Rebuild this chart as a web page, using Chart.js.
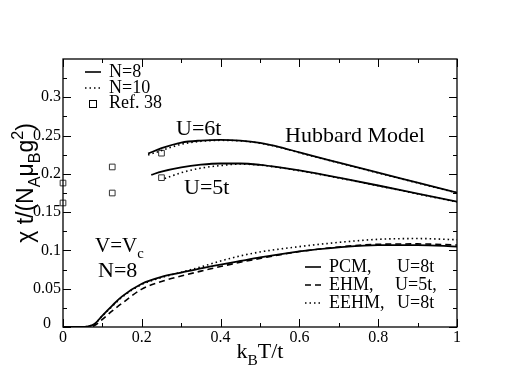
<!DOCTYPE html>
<html>
<head>
<meta charset="utf-8">
<script src="https://cdn.jsdelivr.net/npm/chart.js@4.4.1/dist/chart.umd.min.js"></script>
<style>
  html, body { margin: 0; padding: 0; background: #fff; }
  #wrap { width: 518px; height: 382px; }
</style>
</head>
<body>
<div id="wrap"><canvas id="chi" width="518" height="382"></canvas></div>
<script>
// Hubbard model, U=6t and U=5t
const xU6n8 = [0.216, 0.25, 0.3, 0.35, 0.4, 0.45, 0.5, 0.55, 0.6, 0.7, 0.8, 0.9, 1.0];
const yU6n8 = [0.2265, 0.2335, 0.2409, 0.2435, 0.2444, 0.2435, 0.2405, 0.235, 0.228, 0.2147, 0.2015, 0.1885, 0.1755];
const xU6n10 = [0.216, 0.25, 0.3, 0.35, 0.4, 0.45, 0.5, 0.55, 0.6, 0.7, 0.8, 0.9, 1.0];
const yU6n10 = [0.2247, 0.2304, 0.2387, 0.2425, 0.2438, 0.2431, 0.2401, 0.2346, 0.2276, 0.2143, 0.2011, 0.1881, 0.1751];
const xU5n8 = [0.224, 0.25, 0.3, 0.35, 0.4, 0.45, 0.5, 0.55, 0.6, 0.7, 0.8, 0.9, 1.0];
const yU5n8 = [0.1986, 0.203, 0.2086, 0.212, 0.2135, 0.2135, 0.2118, 0.2085, 0.2045, 0.195, 0.1848, 0.1742, 0.1636];
const xU5n10 = [0.258, 0.3, 0.35, 0.4, 0.45, 0.5, 0.55, 0.6, 0.7, 0.8, 0.9, 1.0];
const yU5n10 = [0.194, 0.2015, 0.2075, 0.2108, 0.2128, 0.2114, 0.2081, 0.2041, 0.1946, 0.1844, 0.1738, 0.1632];

// Ref. 38
const xRef = [0, 0, 0.125, 0.125, 0.25, 0.25];
const yRef = [0.188, 0.162, 0.209, 0.175, 0.227, 0.195];

// V=Vc, N=8
const xV = [0, 0.05, 0.06, 0.08, 0.1, 0.125, 0.15, 0.2, 0.25, 0.3, 0.35, 0.4, 0.45, 0.5, 0.6, 0.7, 0.8, 0.9, 1.0];
const yPCM = [0, 0, 0.0005, 0.004, 0.015, 0.028, 0.04, 0.0565, 0.0655, 0.071, 0.0765, 0.0815, 0.0862, 0.0908, 0.0988, 0.104, 0.107, 0.107, 0.105];
const yEHM = [0, 0, 0, 0.002, 0.01, 0.021, 0.031, 0.0495, 0.0595, 0.0665, 0.073, 0.079, 0.0845, 0.0895, 0.0985, 0.1045, 0.108, 0.1085, 0.107];
const yEEHM = [0, 0, 0.0005, 0.004, 0.0145, 0.027, 0.039, 0.0555, 0.0645, 0.0715, 0.0785, 0.0862, 0.0928, 0.098, 0.105, 0.1105, 0.1145, 0.1155, 0.114];

const xMajor = [0, 0.2, 0.4, 0.6, 0.8, 1];
const xLabels = ['0', '0.2', '0.4', '0.6', '0.8', '1'];
const xMinor = [0.1, 0.3, 0.5, 0.7, 0.9];
const yMajor = [0, 0.05, 0.1, 0.15, 0.2, 0.25, 0.3];
const yLabels = ['0', '0.05', '0.1', '0.15', '0.2', '0.25', '0.3'];
const yMinor = [0.025, 0.075, 0.125, 0.175, 0.225, 0.275, 0.325];

const FONT = '"Liberation Serif", "DejaVu Serif", serif';
const SANS = '"Liberation Sans", "DejaVu Sans", sans-serif';
const pts = (xs, ys) => xs.map((x, i) => ({ x: x, y: ys[i] }));

function line(xs, ys, dash) {
  return {
    data: pts(xs, ys),
    borderColor: '#000',
    borderWidth: dash ? 1.6 : 1.8,
    borderDash: dash || [],
    pointRadius: 0,
    cubicInterpolationMode: 'monotone',
    fill: false
  };
}

const dots = [1.5, 3];
const dashes = [6, 4];

// rich text: segments of {t, sub, sup}
function richWidth(ctx, segs, size, face) {
  let w = 0;
  segs.forEach(s => {
    const sz = (s.sub || s.sup) ? size * 0.7 : size;
    ctx.font = sz + 'px ' + (face || FONT);
    w += ctx.measureText(s.t).width;
  });
  return w;
}
function drawRich(ctx, segs, x, y, size, face) {
  let cx = x;
  segs.forEach(s => {
    const sz = (s.sub || s.sup) ? size * 0.7 : size;
    ctx.font = sz + 'px ' + (face || FONT);
    let dy = 0;
    if (s.sub) dy = size * 0.3;
    if (s.sup) dy = -size * 0.45;
    ctx.fillText(s.t, cx, y + dy);
    cx += ctx.measureText(s.t).width;
  });
}

const decor = {
  id: 'decor',
  afterDraw(chart) {
    const ctx = chart.ctx;
    const xs = chart.scales.x, ys = chart.scales.y;
    const a = chart.chartArea;
    ctx.save();
    ctx.strokeStyle = '#000';
    ctx.fillStyle = '#000';
    ctx.lineWidth = 1.3;
    ctx.strokeRect(a.left, a.top, a.right - a.left, a.bottom - a.top);

    ctx.lineWidth = 1;
    ctx.beginPath();
    const tick = (v, len, isX) => {
      if (isX) {
        const p = Math.round(xs.getPixelForValue(v)) + 0.5;
        ctx.moveTo(p, a.bottom); ctx.lineTo(p, a.bottom - len);
        ctx.moveTo(p, a.top); ctx.lineTo(p, a.top + len);
      } else {
        const p = Math.round(ys.getPixelForValue(v)) + 0.5;
        ctx.moveTo(a.left, p); ctx.lineTo(a.left + len, p);
        ctx.moveTo(a.right, p); ctx.lineTo(a.right - len, p);
      }
    };
    xMajor.forEach(v => tick(v, 8, true));
    xMinor.forEach(v => tick(v, 4, true));
    yMajor.forEach(v => tick(v, 8, false));
    yMinor.forEach(v => tick(v, 4, false));
    ctx.stroke();

    // tick labels
    ctx.font = '16px ' + FONT;
    ctx.textAlign = 'center';
    ctx.textBaseline = 'top';
    xMajor.forEach((v, i) => ctx.fillText(xLabels[i], xs.getPixelForValue(v), a.bottom + 3));
    ctx.textAlign = 'right';
    ctx.textBaseline = 'middle';
    yMajor.forEach((v, i) => {
      const off = v === 0 ? 12 : 2;
      ctx.fillText(yLabels[i], a.left - off, ys.getPixelForValue(v) - (v === 0 ? 3 : 0));
    });

    // axis titles
    ctx.textAlign = 'left';
    ctx.textBaseline = 'alphabetic';
    const xt = [{ t: 'k' }, { t: 'B', sub: true }, { t: 'T/t' }];
    const xw = richWidth(ctx, xt, 22);
    drawRich(ctx, xt, (a.left + a.right) / 2 - xw / 2, 358, 22);

    const yt = [{ t: 'χ t/(N' }, { t: 'A', sub: true }, { t: 'μ' }, { t: 'B', sub: true }, { t: 'g' }, { t: '2', sup: true }, { t: ')' }];
    const yw = richWidth(ctx, yt, 23, SANS);
    ctx.save();
    ctx.translate(33, 183);
    ctx.rotate(-Math.PI / 2);
    drawRich(ctx, yt, -yw / 2, 0, 23, SANS);
    ctx.restore();

    // annotations
    ctx.textBaseline = 'alphabetic';
    ctx.font = '22px ' + FONT;
    ctx.fillText('U=6t', 176, 135);
    ctx.fillText('U=5t', 184, 194);
    ctx.fillText('Hubbard Model', 285, 142);
    drawRich(ctx, [{ t: 'V=V' }, { t: 'c', sub: true }], 95, 252, 21);
    ctx.font = '22px ' + FONT;
    ctx.fillText('N=8', 98, 277);

    // legends
    const legLine = (x1, x2, y, dash) => {
      ctx.beginPath();
      ctx.setLineDash(dash || []);
      ctx.lineWidth = 1.6;
      ctx.moveTo(x1, y); ctx.lineTo(x2, y);
      ctx.stroke();
      ctx.setLineDash([]);
    };
    ctx.textBaseline = 'middle';
    ctx.font = '18px ' + FONT;
    legLine(85, 101, 72);
    ctx.fillText('N=8', 109, 72);
    legLine(85, 101, 88, dots);
    ctx.fillText('N=10', 109, 88);
    ctx.lineWidth = 1;
    ctx.strokeRect(89.5, 100.5, 7, 7);
    ctx.fillText('Ref. 38', 109, 103);

    legLine(305, 321, 267);
    ctx.fillText('PCM,', 329, 267);
    ctx.fillText('U=8t', 397, 267);
    legLine(305, 321, 285, dashes);
    ctx.fillText('EHM,', 329, 285);
    ctx.fillText('U=5t,', 395, 285);
    legLine(305, 321, 303, dots);
    ctx.fillText('EEHM,', 329, 303);
    ctx.fillText('U=8t', 397, 303);
    ctx.restore();
  }
};

function build() {
  new Chart(document.getElementById('chi'), {
    type: 'line',
    data: {
      datasets: [
        line(xU6n8, yU6n8),
        line(xU6n10, yU6n10, dots),
        line(xU5n8, yU5n8),
        line(xU5n10, yU5n10, dots),
        line(xV, yPCM),
        line(xV, yEHM, dashes),
        line(xV, yEEHM, dots),
        {
          type: 'scatter',
          data: pts(xRef, yRef),
          pointStyle: 'rect',
          pointRadius: 4,
          borderColor: '#333',
          backgroundColor: 'rgba(0,0,0,0)',
          borderWidth: 1,
          showLine: false,
          clip: false
        }
      ]
    },
    options: {
      responsive: false,
      animation: false,
      layout: { padding: { left: 63, right: 61, top: 59, bottom: 55 } },
      plugins: { legend: { display: false }, tooltip: { enabled: false } },
      scales: {
        x: { type: 'linear', min: 0, max: 1, display: false },
        y: { type: 'linear', min: 0, max: 0.35, display: false }
      }
    },
    plugins: [decor]
  });
}

Promise.all([
  document.fonts.load('16px "Liberation Serif"'),
  document.fonts.load('16px "Liberation Sans"'),
  document.fonts.load('16px "DejaVu Serif"')
]).then(build, build);
</script>
</body>
</html>
